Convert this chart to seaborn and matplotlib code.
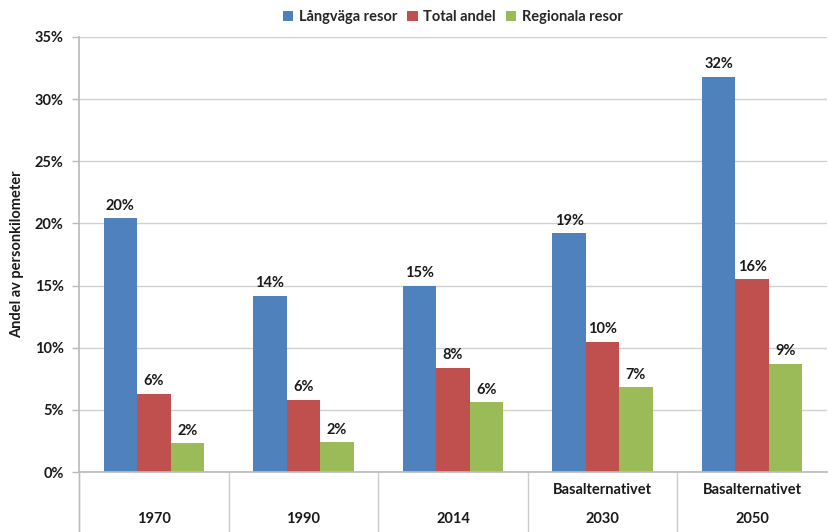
import matplotlib
matplotlib.use("Agg")
import matplotlib.pyplot as plt
import matplotlib.transforms as mtransforms
import seaborn as sns
import pandas as pd

years = ["1970", "1990", "2014", "2030", "2050"]
sublabels = ["", "", "", "Basalternativet", "Basalternativet"]
series = ["Långväga resor", "Total andel", "Regionala resor"]
langvaga = [20.4, 14.2, 15.0, 19.2, 31.8]
total = [6.3, 5.8, 8.4, 10.5, 15.5]
regionala = [2.3, 2.4, 5.6, 6.8, 8.7]
colors = ["#4F81BD", "#C0504D", "#9BBB59"]
yticks = [0, 5, 10, 15, 20, 25, 30, 35]

df = pd.DataFrame({
    "year": years * 3,
    "series": [series[0]] * 5 + [series[1]] * 5 + [series[2]] * 5,
    "value": langvaga + total + regionala,
})

sns.set_theme(style="white")
plt.rcParams["font.family"] = ["Lato", "DejaVu Sans"]
plt.rcParams["font.weight"] = "bold"

FS = 10.5
TXT = "#1a1a1a"
W, H = 829, 532
fig = plt.figure(figsize=(W / 100, H / 100), dpi=100)
ax = fig.add_axes([79 / W, (H - 472) / H, (827 - 79) / W, (472 - 37) / H])

sns.barplot(data=df, x="year", y="value", hue="series", order=years,
            hue_order=series, palette=colors, width=0.67, saturation=1,
            linewidth=0, ax=ax, legend=True)

for cont in ax.containers:
    ax.bar_label(cont, labels=[f"{v:.0f}%" for v in cont.datavalues],
                 padding=4, fontsize=FS, fontweight="bold", color=TXT)

ax.set_ylim(0, 35)
ax.set_xlim(-0.5, 4.5)
ax.set_yticks(yticks)
ax.set_yticklabels([f"{t}%" for t in yticks], fontsize=FS, fontweight="bold", color=TXT)
ax.yaxis.grid(True, color="#d0d0d0", linewidth=1)
ax.set_axisbelow(True)
ax.tick_params(axis="y", length=5, color="#bbbbbb", width=1, pad=6, left=True)
ax.set_xticks([])
ax.set_xlabel("")
ax.set_ylabel("Andel av personkilometer", fontsize=FS, fontweight="bold", color=TXT, labelpad=8)
for s in ["top", "right"]:
    ax.spines[s].set_visible(False)
ax.spines["left"].set_color("#bbbbbb")
ax.spines["bottom"].set_color("#bbbbbb")

trans = mtransforms.blended_transform_factory(ax.transData, ax.transAxes)
below = -(H - 472) / (472 - 37)
for xb in [-0.5, 0.5, 1.5, 2.5, 3.5]:
    ax.plot([xb, xb], [0, below], transform=trans, color="#cccccc", lw=1, clip_on=False)
ax.plot([-0.5, -0.5], [0, below], transform=trans, color="#bbbbbb", lw=1, clip_on=False)

for i, (y, sub) in enumerate(zip(years, sublabels)):
    ax.text(i, (472 - 519) / (472 - 37), y, transform=trans, ha="center", va="center",
            fontsize=FS, fontweight="bold", color=TXT)
    if sub:
        ax.text(i, (472 - 490) / (472 - 37), sub, transform=trans, ha="center", va="center",
                fontsize=FS, fontweight="bold", color=TXT)

ax.legend(loc="center", bbox_to_anchor=(0.5, (472 - 17) / (472 - 37)), ncol=3, frameon=False,
          handlelength=0.7, handleheight=0.7, handletextpad=0.4, columnspacing=0.7,
          prop={"weight": "bold", "size": FS})

fig.savefig("out.png", dpi=100)
